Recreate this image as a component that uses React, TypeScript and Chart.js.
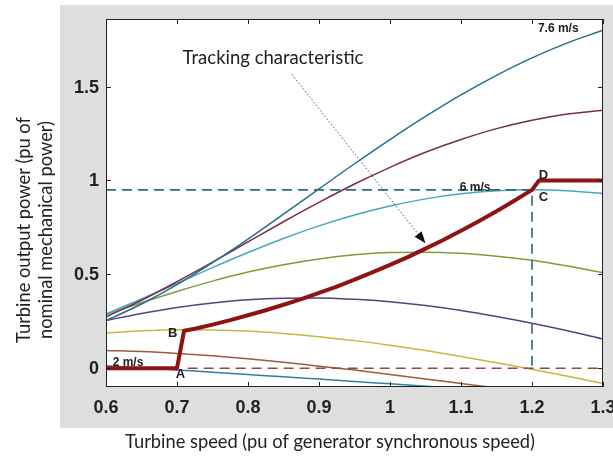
import React, { useEffect, useRef } from "react";
import { Chart, registerables } from "chart.js";

Chart.register(...registerables);

// ---- data ----
const speedTicks = [0.6, 0.7, 0.8, 0.9, 1.0, 1.1, 1.2, 1.3];
const powerTicks = [0, 0.5, 1, 1.5];
const speeds = [0.6, 0.65, 0.7, 0.75, 0.8, 0.85, 0.9, 0.95, 1.0, 1.05, 1.1, 1.15, 1.2, 1.25, 1.3];

const wind76 = [0.253, 0.342, 0.445, 0.562, 0.688, 0.821, 0.955, 1.089, 1.218, 1.341, 1.456, 1.56, 1.653, 1.733, 1.8];
const wind68 = [0.274, 0.362, 0.461, 0.565, 0.673, 0.78, 0.883, 0.981, 1.07, 1.15, 1.218, 1.276, 1.321, 1.354, 1.374];
const wind60 = [0.289, 0.369, 0.452, 0.536, 0.616, 0.691, 0.758, 0.816, 0.864, 0.902, 0.929, 0.945, 0.95, 0.945, 0.93];
const wind52 = [0.286, 0.349, 0.409, 0.464, 0.512, 0.551, 0.582, 0.604, 0.616, 0.618, 0.612, 0.597, 0.575, 0.544, 0.508];
const wind44 = [0.254, 0.292, 0.324, 0.348, 0.365, 0.373, 0.374, 0.367, 0.354, 0.334, 0.308, 0.276, 0.24, 0.2, 0.156];
const wind36 = [0.187, 0.199, 0.205, 0.204, 0.198, 0.185, 0.168, 0.147, 0.122, 0.094, 0.063, 0.029, -0.006, -0.043, -0.081];
const wind28 = [0.095, 0.089, 0.079, 0.066, 0.05, 0.032, 0.011, -0.01, -0.033, -0.057, -0.081, -0.105, -0.13];
const wind20 = [0.013, 0.003, -0.009, -0.021, -0.033, -0.046, -0.058, -0.071, -0.083, -0.096, -0.108];

const trackX = [0.6, 0.7, 0.71, 0.725, 0.75, 0.775, 0.8, 0.825, 0.85, 0.875, 0.9, 0.925, 0.95, 0.975, 1.0, 1.025, 1.05, 1.075, 1.1, 1.125, 1.15, 1.175, 1.2, 1.21, 1.3];
const trackY = [0, 0, 0.2, 0.21, 0.232, 0.256, 0.282, 0.309, 0.338, 0.368, 0.401, 0.435, 0.472, 0.51, 0.55, 0.592, 0.637, 0.683, 0.732, 0.783, 0.836, 0.892, 0.95, 1.0, 1.0];

const ratedX = [0.6, 1.2, 1.2];
const ratedY = [0.95, 0.95, 0];
const zeroX = [0.715, 1.3];
const zeroY = [0, 0];

const noteText = ["7.6 m/s", "6 m/s", "2 m/s", "A", "B", "C", "D"];
const noteX = [1.237, 1.12, 0.631, 0.705, 0.694, 1.216, 1.216];
const noteY = [1.81, 0.963, 0.032, -0.034, 0.186, 0.91, 1.028];

const arrowFrom = { x: 0.862, y: 1.564 };
const arrowTo = { x: 1.05, y: 0.665 };

const pts = (xs: number[], ys: number[]) => ys.map((y, i) => ({ x: xs[i], y }));

const curve = (label: string, ys: number[], color: string) => ({
  label,
  data: pts(speeds, ys),
  borderColor: color,
  borderWidth: 1.5,
  pointRadius: 0,
  fill: false,
  cubicInterpolationMode: "monotone" as const,
});

const decor = {
  id: "decor",
  beforeDraw(chart: any) {
    const { ctx, chartArea: a, width } = chart;
    ctx.save();
    ctx.fillStyle = "#dedede";
    ctx.fillRect(a.left - 46, a.top - 14, width - (a.left - 46), a.bottom - a.top + 55);
    ctx.fillStyle = "#ffffff";
    ctx.fillRect(a.left, a.top, a.right - a.left, a.bottom - a.top);
    ctx.restore();
  },
  afterDatasetsDraw(chart: any) {
    const { ctx } = chart;
    const xs = chart.scales.x;
    const ys = chart.scales.y;
    ctx.save();
    // arrow
    const x0 = xs.getPixelForValue(arrowFrom.x);
    const y0 = ys.getPixelForValue(arrowFrom.y);
    const x1 = xs.getPixelForValue(arrowTo.x);
    const y1 = ys.getPixelForValue(arrowTo.y);
    const ang = Math.atan2(y1 - y0, x1 - x0);
    const headL = 12;
    const bx = x1 - headL * Math.cos(ang);
    const by = y1 - headL * Math.sin(ang);
    ctx.strokeStyle = "#555";
    ctx.lineWidth = 1;
    ctx.setLineDash([1.5, 2]);
    ctx.beginPath();
    ctx.moveTo(x0, y0);
    ctx.lineTo(bx, by);
    ctx.stroke();
    ctx.setLineDash([]);
    ctx.fillStyle = "#111";
    ctx.beginPath();
    ctx.moveTo(x1, y1);
    ctx.lineTo(bx + 4.5 * Math.sin(ang), by - 4.5 * Math.cos(ang));
    ctx.lineTo(bx - 4.5 * Math.sin(ang), by + 4.5 * Math.cos(ang));
    ctx.closePath();
    ctx.fill();
    // notes
    ctx.fillStyle = "#222";
    ctx.textAlign = "center";
    ctx.textBaseline = "middle";
    noteText.forEach((t, i) => {
      ctx.font = t.length > 1 ? "bold 12px 'Liberation Sans', Arial, sans-serif" : "bold 13px 'Liberation Sans', Arial, sans-serif";
      ctx.fillText(t, xs.getPixelForValue(noteX[i]), ys.getPixelForValue(noteY[i]));
    });
    ctx.font = "18.5px Lato, sans-serif";
    ctx.textBaseline = "alphabetic";
    ctx.fillText("Tracking characteristic", 273, 64);
    ctx.restore();
  },
  afterDraw(chart: any) {
    const { ctx, chartArea: a } = chart;
    const xs = chart.scales.x;
    const ys = chart.scales.y;
    ctx.save();
    ctx.strokeStyle = "#222";
    ctx.lineWidth = 1;
    ctx.strokeRect(a.left + 0.5, a.top + 0.5, a.right - a.left - 1, a.bottom - a.top - 1);
    ctx.beginPath();
    speedTicks.forEach((v) => {
      const p = Math.round(xs.getPixelForValue(v)) + 0.5;
      ctx.moveTo(p, a.bottom);
      ctx.lineTo(p, a.bottom - 5);
      ctx.moveTo(p, a.top);
      ctx.lineTo(p, a.top + 5);
    });
    powerTicks.forEach((v) => {
      const p = Math.round(ys.getPixelForValue(v)) + 0.5;
      ctx.moveTo(a.left, p);
      ctx.lineTo(a.left + 5, p);
      ctx.moveTo(a.right, p);
      ctx.lineTo(a.right - 5, p);
    });
    ctx.stroke();
    ctx.fillStyle = "#222";
    ctx.font = "bold 18px 'Liberation Sans', Arial, sans-serif";
    ctx.textAlign = "center";
    ctx.textBaseline = "middle";
    speedTicks.forEach((v) => {
      ctx.fillText(String(Number(v.toFixed(1))), xs.getPixelForValue(v), a.bottom + 21);
    });
    ctx.textAlign = "right";
    powerTicks.forEach((v) => {
      ctx.fillText(String(v), a.left - 7, ys.getPixelForValue(v) + 1);
    });
    // axis titles
    ctx.font = "18.3px Lato, sans-serif";
    ctx.textAlign = "center";
    ctx.textBaseline = "alphabetic";
    ctx.fillText("Turbine speed (pu of generator synchronous speed)", a.left + 224, a.bottom + 61);
    ctx.save();
    ctx.translate(30, 230);
    ctx.rotate(-Math.PI / 2);
    ctx.fillText("Turbine output power (pu of", 0, 0);
    ctx.restore();
    ctx.save();
    ctx.translate(52, 230);
    ctx.rotate(-Math.PI / 2);
    ctx.fillText("nominal mechanical power)", 0, 0);
    ctx.restore();
    ctx.restore();
  },
};

export default function App() {
  const ref = useRef<HTMLCanvasElement | null>(null);
  useEffect(() => {
    if (!ref.current) return;
    const chart = new Chart(ref.current, {
      type: "line",
      data: {
        datasets: [
          {
            label: "Tracking characteristic",
            data: pts(trackX, trackY),
            borderColor: "#8e1414",
            borderWidth: 4,
            borderJoinStyle: "round",
            pointRadius: 0,
            fill: false,
            tension: 0,
          },
          {
            label: "rated",
            data: pts(ratedX, ratedY),
            borderColor: "#2b6a84",
            borderWidth: 1.6,
            borderDash: [10, 6],
            pointRadius: 0,
            fill: false,
            tension: 0,
          },
          {
            label: "zero",
            data: pts(zeroX, zeroY),
            borderColor: "#944a3c",
            borderWidth: 1.6,
            borderDash: [10, 6],
            pointRadius: 0,
            fill: false,
            tension: 0,
          },
          curve("7.6 m/s", wind76, "#246e8c"),
          curve("6.8 m/s", wind68, "#7a2c4a"),
          curve("6.0 m/s", wind60, "#4aa6bd"),
          curve("5.2 m/s", wind52, "#7f9a38"),
          curve("4.4 m/s", wind44, "#5c3e80"),
          curve("3.6 m/s", wind36, "#c9b441"),
          curve("2.8 m/s", wind28, "#9c5b3d"),
          curve("2.0 m/s", wind20, "#2e7fa6"),
        ],
      },
      options: {
        responsive: false,
        animation: false,
        layout: { padding: { top: 19, right: 10, left: 0, bottom: 0 } },
        plugins: { legend: { display: false }, tooltip: { enabled: false } },
        scales: {
          x: {
            type: "linear",
            min: 0.6,
            max: 1.3,
            grid: { display: false },
            border: { display: false },
            ticks: { display: false },
            afterFit: (s: any) => {
              s.height = 71;
            },
          },
          y: {
            type: "linear",
            min: -0.1,
            max: 1.86,
            grid: { display: false },
            border: { display: false },
            ticks: { display: false },
            afterFit: (s: any) => {
              s.width = 106;
            },
          },
        },
      },
      plugins: [decor],
    } as any);
    return () => chart.destroy();
  }, []);
  return (
    <div style={{ position: "absolute", left: 0, top: 0, width: 613, height: 458, background: "#fff" }}>
      <canvas ref={ref} width={613} height={458} style={{ display: "block" }} />
    </div>
  );
}
